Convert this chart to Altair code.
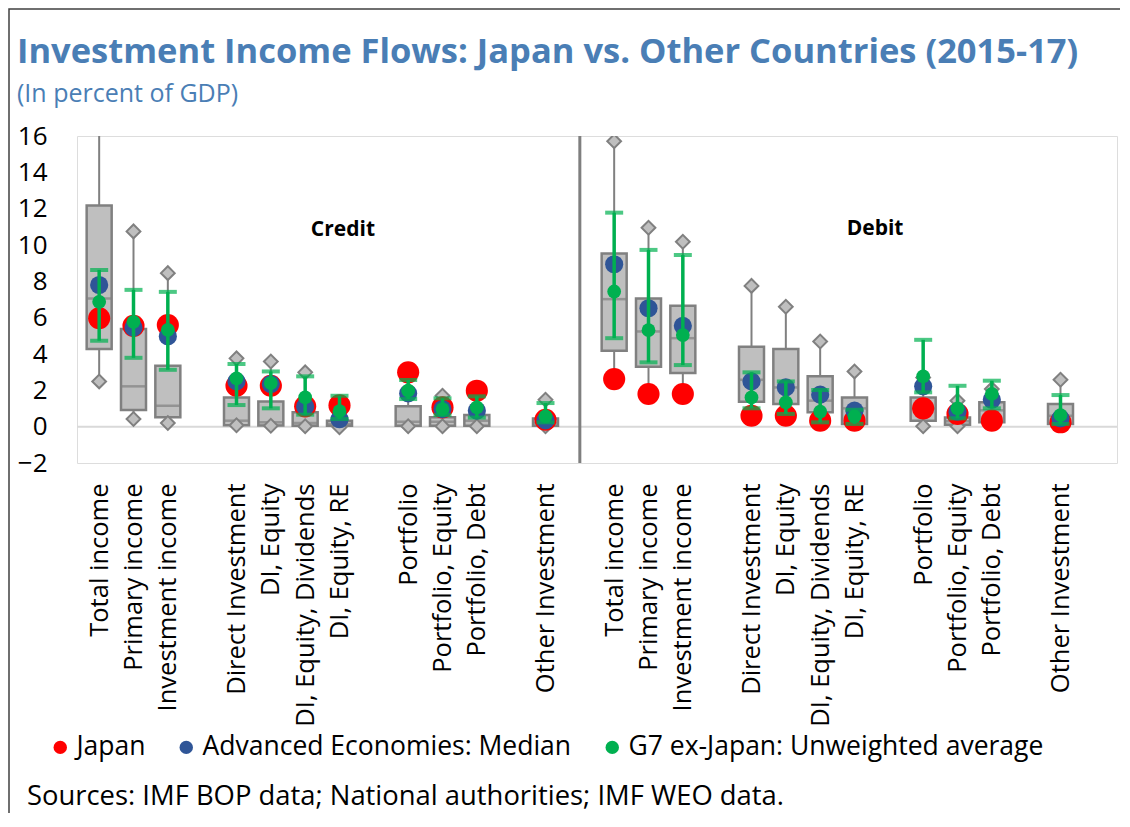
import altair as alt
import pandas as pd

TITLE = "Investment Income Flows: Japan vs. Other Countries (2015-17)"
SUBTITLE = "(In percent of GDP)"
SOURCE = "Sources: IMF BOP data; National authorities; IMF WEO data."

CATEGORIES = ["Total income", "Primary income", "Investment income",
              "Direct Investment", "DI, Equity", "DI, Equity, Dividends", "DI, Equity, RE",
              "Portfolio", "Portfolio, Equity", "Portfolio, Debt",
              "Other Investment"]
GROUPS = [3, 4, 3, 1]
SIDES = ["Credit", "Debit"]

SERIES = ["Japan", "Advanced Economies: Median", "G7 ex-Japan: Unweighted average"]
COLORS = ["#FF0000", "#2F5597", "#00B050"]

# distribution across advanced economies (box plot)
credit_min = [2.49, 0.42, 0.20, 0.08, 0.05, 0.02, -0.03, 0.02, 0.02, 0.02, 0.02]
credit_q1 = [4.27, 0.92, 0.52, 0.08, 0.06, 0.05, 0.05, 0.05, 0.05, 0.05, 0.05]
credit_med = [7.06, 2.22, 1.15, 0.33, 0.24, 0.20, 0.15, 0.27, 0.27, 0.33, 0.20]
credit_q3 = [12.18, 5.37, 3.35, 1.61, 1.39, 0.79, 0.33, 1.12, 0.52, 0.64, 0.45]
credit_max = [18.0, 10.75, 8.45, 3.76, 3.59, 2.99, 1.20, 3.00, 1.70, 1.90, 1.48]

debit_min = [2.62, 1.80, 1.80, 0.60, 0.60, 0.33, 0.33, 0.02, 0.02, 0.33, 0.24]
debit_q1 = [4.18, 3.30, 2.95, 1.37, 1.25, 0.79, 0.15, 0.33, 0.10, 0.24, 0.15]
debit_med = [7.02, 5.24, 4.87, 2.58, 2.16, 1.43, 1.01, 1.00, 0.30, 0.90, 0.60]
debit_q3 = [9.53, 7.05, 6.65, 4.40, 4.27, 2.77, 1.61, 1.61, 0.50, 1.34, 1.25]
debit_max = [15.71, 10.95, 10.18, 7.75, 6.60, 4.69, 3.04, 2.70, 1.43, 2.07, 2.58]

# series
credit_japan = [5.97, 5.55, 5.59, 2.25, 2.25, 1.12, 1.17, 2.99, 1.06, 1.98, 0.38]
credit_ae = [7.80, 5.45, 4.97, 2.49, 2.35, 1.10, 0.41, 1.83, 0.97, 0.88, 0.35]
credit_g7 = [6.87, 5.77, 5.33, 2.66, 2.40, 1.61, 0.85, 1.98, 0.97, 1.06, 0.57]
credit_g7_lo = [4.73, 3.79, 3.13, 1.19, 1.01, 0.66, 0.42, 1.52, 0.64, 0.50, 0.24]
credit_g7_hi = [8.63, 7.53, 7.42, 3.45, 3.04, 2.77, 1.70, 2.57, 1.56, 1.67, 1.30]

debit_japan = [2.62, 1.80, 1.80, 0.60, 0.60, 0.33, 0.33, 1.01, 0.70, 0.33, 0.24]
debit_ae = [8.94, 6.52, 5.55, 2.49, 2.16, 1.76, 0.88, 2.22, 0.82, 1.48, 0.46]
debit_g7 = [7.44, 5.31, 5.04, 1.61, 1.34, 0.83, 0.57, 2.77, 1.01, 1.80, 0.64]
debit_g7_lo = [4.87, 3.54, 3.39, 1.01, 0.70, 0.24, 0.15, 1.89, 0.46, 1.01, 0.15]
debit_g7_hi = [11.78, 9.73, 9.45, 2.99, 2.49, 2.02, 0.93, 4.78, 2.25, 2.53, 1.74]

# panel label placement (data coordinates)
side_label_x = [7.1, 22.6]
side_label_y = [10.8, 10.9]

# ---------- build tables ----------
positions = []
p = 0
for _side in SIDES:
    for g in GROUPS:
        for _k in range(g):
            positions.append(p)
            p += 1
        p += 1
n_slots = p - 1
divider = (positions[len(CATEGORIES) - 1] + positions[len(CATEGORIES)]) / 2

rows = []
circ = []
sets = {
    "Credit": (credit_min, credit_q1, credit_med, credit_q3, credit_max,
               credit_japan, credit_ae, credit_g7, credit_g7_lo, credit_g7_hi),
    "Debit": (debit_min, debit_q1, debit_med, debit_q3, debit_max,
              debit_japan, debit_ae, debit_g7, debit_g7_lo, debit_g7_hi),
}
i = 0
for side in SIDES:
    mn, q1, md, q3, mx, jp, ae, g7, lo, hi = sets[side]
    for j, cat in enumerate(CATEGORIES):
        pos = positions[i]
        rows.append(dict(pos=pos, side=side, cat=cat, vmin=mn[j], q1=q1[j], med=md[j],
                         q3=q3[j], vmax=mx[j], lo=lo[j], hi=hi[j]))
        for s, v in zip(SERIES, (jp[j], ae[j], g7[j])):
            circ.append(dict(pos=pos, series=s, value=v))
        i += 1
df = pd.DataFrame(rows)
cdf = pd.DataFrame(circ)
ddf = pd.concat([
    df[["pos", "vmin"]].rename(columns={"vmin": "v"}),
    df[["pos", "vmax"]].rename(columns={"vmax": "v"}),
])

label_arr = [""] * (n_slots + 1)
for k, pos in enumerate(positions):
    label_arr[pos] = CATEGORIES[k % len(CATEGORIES)]
label_expr = "[" + ",".join("'" + s + "'" for s in label_arr) + "][datum.value]"

FONT = "Open Sans"
BLUE_TITLE = "#4A7EB5"
xscale = alt.Scale(domain=[-0.5, n_slots + 0.5], nice=False, zero=False)
yscale = alt.Scale(domain=[-2, 16], nice=False, zero=False)
xaxis = alt.Axis(values=positions, labelExpr=label_expr, labelAngle=270, labelFontSize=25.5,
                 labelColor="black", labelFont=FONT, labelOverlap=False, labelFlush=False,
                 labelBound=False, ticks=False, tickSize=0, domain=False, grid=False,
                 labelPadding=20, title=None, labelLimit=400)
yaxis = alt.Axis(values=list(range(-2, 17, 2)), labelFontSize=26, labelColor="black",
                 labelFont=FONT, ticks=False, tickSize=0, domain=False, grid=False,
                 labelPadding=30, title=None)


def X():
    return alt.X("pos:Q", scale=xscale, axis=xaxis)


def Y(f):
    return alt.Y(f + ":Q", scale=yscale, axis=yaxis)


color = alt.Color("series:N", scale=alt.Scale(domain=SERIES, range=COLORS),
                  legend=alt.Legend(orient="none", legendX=-30, legendY=598,
                                    direction="horizontal", title=None, labelFontSize=26.5,
                                    labelFont=FONT, labelColor="black", symbolSize=180,
                                    symbolType="circle", columnPadding=27, labelOffset=3,
                                    padding=0, symbolStrokeWidth=0, labelLimit=600))

base = alt.Chart(df)

zero = alt.Chart(pd.DataFrame({"z": [0]})).mark_rule(
    color="#D9D9D9", strokeWidth=2).encode(y=Y("z"))

whisk = base.mark_rule(color="#808080", strokeWidth=2, clip=True).encode(
    x=X(), y=Y("vmin"), y2="vmax:Q")
box = base.mark_bar(size=25, fill="#BFBFBF", stroke="#808080", strokeWidth=2.5).encode(
    x=X(), y=Y("q1"), y2="q3:Q")
med = base.mark_tick(orient="horizontal", size=25, thickness=2.5, color="#808080").encode(
    x=X(), y=Y("med"))
diam = alt.Chart(ddf).mark_point(shape="diamond", filled=True, fill="#BFBFBF", stroke="#808080",
                                 strokeWidth=2, size=190, opacity=1, clip=True).encode(
    x=X(), y=Y("v"))
div = alt.Chart(pd.DataFrame({"d": [divider]})).mark_rule(color="#7F7F7F", strokeWidth=3).encode(
    x=alt.X("d:Q", scale=xscale, axis=xaxis))

red = alt.Chart(cdf[cdf.series == SERIES[0]]).mark_circle(size=490, opacity=1).encode(
    x=X(), y=Y("value"), color=color)
blue = alt.Chart(cdf[cdf.series == SERIES[1]]).mark_circle(size=330, opacity=1).encode(
    x=X(), y=Y("value"), color=color)
err = base.mark_rule(color="#00B050", strokeWidth=3.5).encode(x=X(), y=Y("lo"), y2="hi:Q")
cap_lo = base.mark_tick(orient="horizontal", size=18, thickness=4, color="#00B050").encode(
    x=X(), y=Y("lo"))
cap_hi = base.mark_tick(orient="horizontal", size=18, thickness=4, color="#00B050").encode(
    x=X(), y=Y("hi"))
green = alt.Chart(cdf[cdf.series == SERIES[2]]).mark_circle(size=190, opacity=1).encode(
    x=X(), y=Y("value"), color=color)

sides = alt.Chart(pd.DataFrame({"pos": side_label_x, "y": side_label_y, "t": SIDES})).mark_text(
    fontSize=21, fontWeight="bold", font=FONT, color="black").encode(x=X(), y=Y("y"), text="t:N")

title = alt.Chart(pd.DataFrame({"t": [TITLE]})).mark_text(
    fontSize=34.5, fontWeight="bold", font=FONT, color=BLUE_TITLE, align="left",
    baseline="alphabetic").encode(x=alt.value(-60), y=alt.value(-73), text="t:N")
subtitle = alt.Chart(pd.DataFrame({"t": [SUBTITLE]})).mark_text(
    fontSize=25, font=FONT, color=BLUE_TITLE, align="left",
    baseline="alphabetic").encode(x=alt.value(-60), y=alt.value(-34), text="t:N")

src = alt.Chart(pd.DataFrame({"t": [SOURCE]})).mark_text(
    fontSize=27.4, font=FONT, color="black", align="left", baseline="middle").encode(
    x=alt.value(-50), y=alt.value(661), text="t:N")

border = alt.Chart(pd.DataFrame({"k": [0]})).mark_rect(
    fill="transparent", stroke="#404040", strokeWidth=1.5, clip=False).encode(
    x=alt.value(-68), x2=alt.value(1060), y=alt.value(-127), y2=alt.value(720))

chart = alt.layer(
    border, zero, whisk, box, med, diam, div, red, blue, err, cap_lo, cap_hi, green, sides,
    title, subtitle, src
).properties(
    width=1040, height=327,
    padding={"left": 69, "top": 128, "right": 3, "bottom": 350},
    autosize=alt.AutoSizeParams(type="none"),
).configure_view(stroke="#A6A6A6", strokeWidth=2).configure(background="white")

chart.save("out.html", embed_options={"renderer": "svg", "actions": False})
